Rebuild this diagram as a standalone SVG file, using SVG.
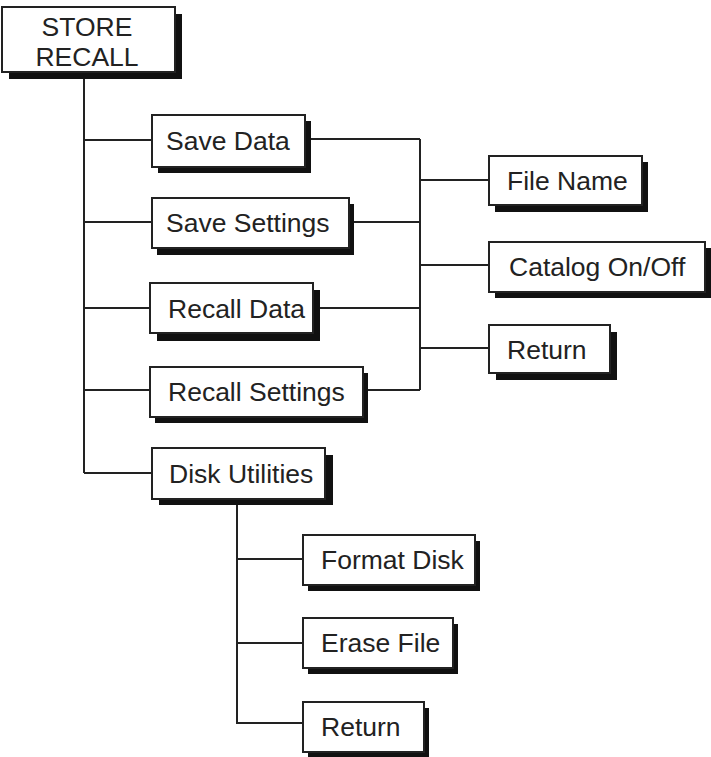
<svg xmlns="http://www.w3.org/2000/svg" width="711" height="757" viewBox="0 0 711 757">
<style>
.sh{fill:#111}
.bx{fill:#fff;stroke:#222;stroke-width:2}
.t{font-family:"Liberation Sans",Arial,sans-serif;font-size:26.5px;fill:#222}
.c{fill:none;stroke:#222;stroke-width:2}
</style>
<g id="connectors" class="c">
<path d="M84 72V473M84 140H152M84 222H152M84 308H150M84 390H150M84 473H152"/>
<path d="M305 139H420M349 222H420M313 308H420M363 390H420M420 139V390M420 180H489M420 265H489M420 348H489"/>
<path d="M237 499V723H303M237 559H303M237 643H303"/>
</g>
<g id="store-recall"><rect class="sh" x="9" y="14" width="173" height="65"/><rect class="bx" x="2" y="7" width="173" height="65"/><text class="t" x="87" y="36" text-anchor="middle">STORE</text><text class="t" x="87" y="66" text-anchor="middle">RECALL</text></g>
<g id="save-data"><rect class="sh" x="158" y="121" width="153" height="52"/><rect class="bx" x="152" y="115" width="153" height="52"/><text class="t" x="166" y="150">Save Data</text></g>
<g id="save-settings"><rect class="sh" x="157" y="204" width="197" height="51"/><rect class="bx" x="152" y="198" width="197" height="50"/><text class="t" x="166" y="232">Save Settings</text></g>
<g id="recall-data"><rect class="sh" x="157" y="290" width="163" height="51"/><rect class="bx" x="150" y="283" width="163" height="50"/><text class="t" x="168" y="318">Recall Data</text></g>
<g id="recall-settings"><rect class="sh" x="155" y="373" width="213" height="50"/><rect class="bx" x="150" y="367" width="213" height="50"/><text class="t" x="168" y="401">Recall Settings</text></g>
<g id="disk-utilities"><rect class="sh" x="159" y="455" width="174" height="50"/><rect class="bx" x="152" y="448" width="173" height="51"/><text class="t" x="169" y="483">Disk Utilities</text></g>
<g id="file-name"><rect class="sh" x="495" y="162" width="153" height="50"/><rect class="bx" x="489" y="156" width="153" height="49"/><text class="t" x="507" y="190">File Name</text></g>
<g id="catalog"><rect class="sh" x="495" y="248" width="216" height="50"/><rect class="bx" x="489" y="242" width="216" height="50"/><text class="t" x="509" y="276">Catalog On/Off</text></g>
<g id="return-1"><rect class="sh" x="496" y="332" width="121" height="48"/><rect class="bx" x="489" y="325" width="121" height="48"/><text class="t" x="507" y="359">Return</text></g>
<g id="format-disk"><rect class="sh" x="308" y="541" width="172" height="50"/><rect class="bx" x="303" y="535" width="172" height="50"/><text class="t" x="321" y="569">Format Disk</text></g>
<g id="erase-file"><rect class="sh" x="308" y="624" width="150" height="50"/><rect class="bx" x="303" y="618" width="150" height="50"/><text class="t" x="321" y="652">Erase File</text></g>
<g id="return-2"><rect class="sh" x="308" y="708" width="121" height="49"/><rect class="bx" x="303" y="702" width="121" height="50"/><text class="t" x="321" y="736">Return</text></g>
</svg>
